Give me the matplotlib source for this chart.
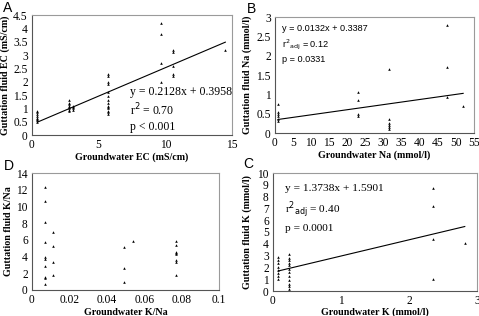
import matplotlib
matplotlib.use("Agg")
import matplotlib.pyplot as plt
import numpy as np

# Panel A: EC (mS/cm)
a_x = [0.4]*8 + [2.8]*8 + [3.1]*4 + [5.7]*14 + [9.7]*4 + [10.6]*5 + [14.5]
a_y = [0.5, 0.55, 0.6, 0.65, 0.7, 0.8, 0.85, 0.9,
       0.9, 0.95, 1.0, 1.05, 1.1, 1.15, 1.2, 1.3,
       0.95, 1.0, 1.05, 1.1,
       0.8, 0.85, 0.9, 1.0, 1.05, 1.1, 1.2, 1.3, 1.45, 1.6, 1.9, 2.0, 2.2, 2.3,
       4.2, 3.8, 2.7, 2.0,
       3.2, 3.1, 2.6, 2.3, 2.2,
       3.2]
a_fit = (0.2128, 0.3958)

# Panel B: Na (mmol/l)
b_x = [0.8]*6 + [23]*4 + [31.5]*6 + [47.5]*3 + [52]
b_y = [0.3, 0.35, 0.45, 0.5, 0.55, 0.75,
       1.05, 0.85, 0.5, 0.45,
       1.65, 0.35, 0.25, 0.2, 0.15, 0.1,
       2.8, 1.7, 0.92,
       0.7]
b_fit = (0.0132, 0.3387)

# Panel C: K (mmol/l)
c_x = [0.08]*8 + [0.23]*12 + [2.35]*4 + [2.82]
c_y = [1.0, 1.3, 1.5, 1.8, 2.0, 2.4, 2.6, 2.9,
       0.2, 0.4, 0.6, 0.9, 1.3, 1.6, 1.9, 2.2, 2.4, 2.6, 2.8, 3.1,
       8.7, 7.2, 4.4, 1.0,
       4.1]
c_fit = (1.3738, 1.5901)

# Panel D: K/Na ratio
d_x = [0.007]*10 + [0.011]*4 + [0.049]*3 + [0.054] + [0.077]*8
d_y = [12.3, 10.6, 8.1, 5.7, 3.9, 3.7, 2.9, 1.6, 1.4, 0.7,
       7.0, 5.3, 3.4, 1.8,
       5.1, 2.6, 1.0,
       5.9,
       5.9, 5.4, 4.6, 4.4, 4.3, 3.6, 3.4, 1.8]

serif = "Liberation Serif"
sans = "Liberation Sans"

fig = plt.figure(figsize=(4.79, 3.16), dpi=100)
W, H = 479, 316

def make_ax(l, t, r, b):
    ax = fig.add_axes([l / W, 1 - b / H, (r - l) / W, (b - t) / H])
    for s in ["top", "right"]:
        ax.spines[s].set_color("#9a9a9a")
    for s in ["left", "bottom"]:
        ax.spines[s].set_color("#555555")
    for s in ax.spines.values():
        s.set_linewidth(0.8)
    ax.tick_params(length=0, labelsize=8.3, pad=3)
    return ax

def fonts(ax):
    for lab in ax.get_xticklabels() + ax.get_yticklabels():
        lab.set_fontfamily(serif)

def scatter_fit(ax, x, y, fit=None):
    ax.scatter(x, y, marker="^", s=3.5, color="black", linewidths=0)
    if fit is not None:
        xs = np.array([min(x), max(x)])
        ax.plot(xs, fit[0] * xs + fit[1], color="black", lw=0.8)

lab_kw = dict(fontfamily=serif, fontweight="bold", fontsize=7.2)

def labels(ax, xl, yl, xpos, ypos):
    ax.set_xlabel(xl, va="center", **lab_kw)
    ax.set_ylabel(yl, va="center", **lab_kw)
    ax.xaxis.set_label_coords(0.5, xpos)
    ax.yaxis.set_label_coords(ypos, 0.5)

# A
axA = make_ax(32, 15, 232, 135)
scatter_fit(axA, a_x, a_y, a_fit)
axA.set_xlim(0, 15)
axA.set_ylim(0, 4.5)
axA.set_xticks([0, 5, 10, 15])
axA.set_yticks(np.arange(0, 4.51, 0.5))
axA.set_yticklabels(["0", "0.5", "1", "1.5", "2", "2.5", "3", "3.5", "4", "4.5"])
fonts(axA)
labels(axA, "Groundwater EC (mS/cm)", "Guttation fluid EC (mS/cm)", -0.185, -0.135)
axA.text(0.49, 0.21, "y = 0.2128x + 0.3958\nr$^2$ = 0.70\np < 0.001",
         transform=axA.transAxes, fontfamily=serif, fontsize=8.5,
         linespacing=1.3, va="center")

# B
axB = make_ax(275, 17, 474, 133)
scatter_fit(axB, b_x, b_y, b_fit)
axB.set_xlim(0, 55)
axB.set_ylim(0, 3)
axB.set_xticks(range(0, 56, 5))
axB.set_yticks([0, 0.5, 1, 1.5, 2, 2.5, 3])
axB.set_yticklabels(["0", "0.5", "1", "1.5", "2", "2.5", "3"])
fonts(axB)
labels(axB, "Groundwater Na (mmol/l)", "Guttation fluid Na (mmol/l)", -0.19, -0.14)
axB.text(0.035, 0.77, "y = 0.0132x + 0.3387\nr$^2$$_{\\rm adj}$ = 0.12\np = 0.0331",
         transform=axB.transAxes, fontfamily=sans, fontsize=6.6,
         linespacing=1.45, va="center")

# D
axD = make_ax(32, 173, 219, 290)
scatter_fit(axD, d_x, d_y)
axD.set_xlim(0, 0.1)
axD.set_ylim(0, 14)
axD.set_xticks([0, 0.02, 0.04, 0.06, 0.08, 0.1])
axD.set_xticklabels(["0", "0.02", "0.04", "0.06", "0.08", "0.1"])
axD.set_yticks(range(0, 15, 2))
fonts(axD)
labels(axD, "Groundwater K/Na", "Guttation fluid K/Na", -0.19, -0.128)

# C
axC = make_ax(273, 173, 477, 291)
scatter_fit(axC, c_x, c_y, c_fit)
axC.set_xlim(0, 3)
axC.set_ylim(0, 10)
axC.set_xticks([0, 1, 2, 3])
axC.set_yticks(range(0, 11))
fonts(axC)
labels(axC, "Groundwater K (mmol/l)", "Guttation fluid K (mmol/l)", -0.18, -0.127)
axC.text(0.06, 0.7, "y = 1.3738x + 1.5901\nr$^2$$_{\\rm adj}$ = 0.40\np = 0.0001",
         transform=axC.transAxes, fontfamily=serif, fontsize=8.2,
         linespacing=1.45, va="center")

for t, x, y in [("A", 3, 1), ("B", 247, 2), ("D", 4, 159), ("C", 243, 157)]:
    fig.text(x / W, 1 - y / H, t, fontfamily=sans, fontsize=10, va="top", ha="left")

fig.savefig("out.png", dpi=100)
